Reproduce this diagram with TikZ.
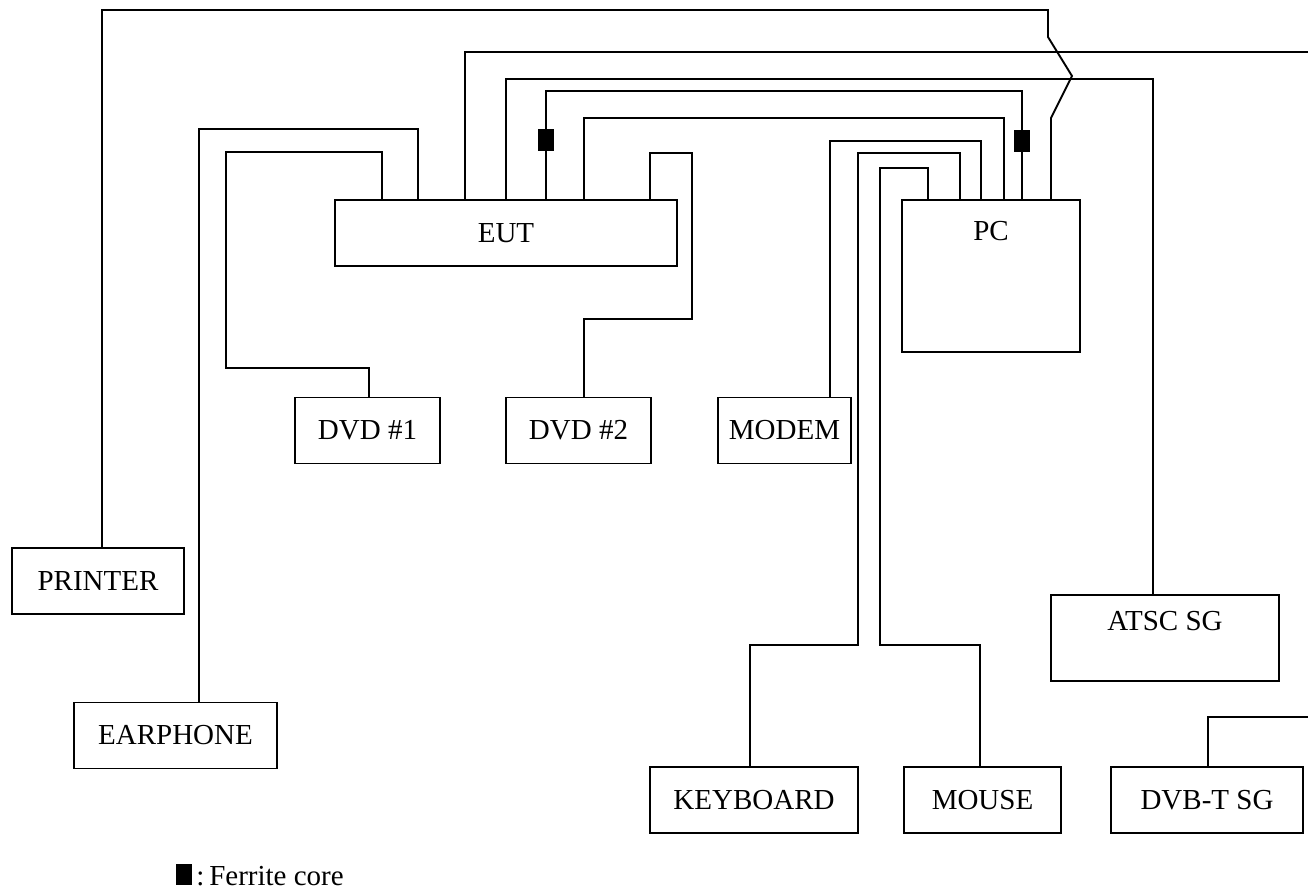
\documentclass[tikz,border=0pt]{standalone}
\usepackage{fontspec}
\setmainfont{Liberation Serif}

\tikzset{
  unit/.style={draw, line width=1.7pt, inner sep=0pt, minimum height=66pt,
    font=\fontsize{29}{34}\selectfont},
  unitlabel/.style={font=\fontsize{29}{34}\selectfont, anchor=center},
  cable/.style={line width=1.9pt},
  ferrite/.style={fill=black, inner sep=0pt, minimum width=16pt, minimum height=22pt},
}

\begin{document}
\begin{tikzpicture}[x=1pt, y=-1pt]

  \useasboundingbox (0,0) rectangle (1308,890);

  % --- equipment under test and host ---
  \node[unit, minimum width=342pt] (eut) at (506,233) {EUT};
  \node[unit, minimum width=178pt, minimum height=152pt,
        label={[unitlabel, yshift=-32pt]north:PC}] (pc) at (991,276) {};

  % --- peripherals ---
  \node[unit, minimum width=145pt] (dvda) at (367.5,430.5) {DVD \#1};
  \node[unit, minimum width=145pt] (dvdb) at (578.5,430.5) {DVD \#2};
  \node[unit, minimum width=133pt] (modem) at (784.5,430.5) {MODEM};
  \node[unit, minimum width=172pt] (printer) at (98,581) {PRINTER};
  \node[unit, minimum width=203pt] (earphone) at (175.5,735.5) {EARPHONE};
  \node[unit, minimum width=208pt] (keyboard) at (754,800) {KEYBOARD};
  \node[unit, minimum width=157pt] (mouse) at (982.5,800) {MOUSE};
  \node[unit, minimum width=192pt] (dvbt) at (1207,800) {DVB-T SG};
  \node[unit, minimum width=228pt, minimum height=86pt,
        label={[unitlabel, yshift=-27pt]north:ATSC SG}] (atsc) at (1165,638) {};

  % --- free cable ends at the right border ---
  \coordinate (edgea) at (1308,52);
  \coordinate (edgeb) at (1308,717);

  % --- cables to the EUT ---
  \draw[cable] ([xshift=4pt]printer.north) |- (1048,10) -- (1048,37)
    -- (1072,76) -- (1051,118) -- ([xshift=60pt]pc.north);
  \draw[cable] ([xshift=23.5pt]earphone.north) |- (418,129)
    -- ([xshift=-88pt]eut.north);
  \draw[cable] ([xshift=1.5pt]dvda.north) |- (226,368) |- (382,152)
    -- ([xshift=-124pt]eut.north);
  \draw[cable] ([xshift=-41pt]eut.north) |- (edgea);
  \draw[cable] (eut.north) |- (1153,79) -- ([xshift=-12pt]atsc.north);
  \draw[cable] ([xshift=40pt]eut.north) |- (1022,91) -- ([xshift=31pt]pc.north);
  \draw[cable] ([xshift=78pt]eut.north) |- (1004,118) -- ([xshift=13pt]pc.north);
  \draw[cable] ([xshift=144pt]eut.north) |- (692,153) |- (584,319)
    -- ([xshift=5.5pt]dvdb.north);

  % --- cables to the PC ---
  \draw[cable] ([xshift=45.5pt]modem.north) |- (981,141) -- ([xshift=-10pt]pc.north);
  \draw[cable] ([xshift=-4pt]keyboard.north) |- (858,645) |- (960,153)
    -- ([xshift=-31pt]pc.north);
  \draw[cable] ([xshift=-2.5pt]mouse.north) |- (880,645) |- (928,168)
    -- ([xshift=-63pt]pc.north);
  \draw[cable] ([xshift=1pt]dvbt.north) |- (edgeb);

  % --- ferrite cores ---
  \node[ferrite] (fca) at (546,140) {};
  \node[ferrite] (fcb) at (1022,141.5) {};

  % --- legend ---
  \node[ferrite, minimum height=21pt] (key) at (184,874.5) {};
  \node[anchor=base west, inner sep=0pt, font=\fontsize{29}{34}\selectfont]
    (keytext) at ([xshift=4pt]key.south east) {:\,Ferrite core};

\end{tikzpicture}
\end{document}
